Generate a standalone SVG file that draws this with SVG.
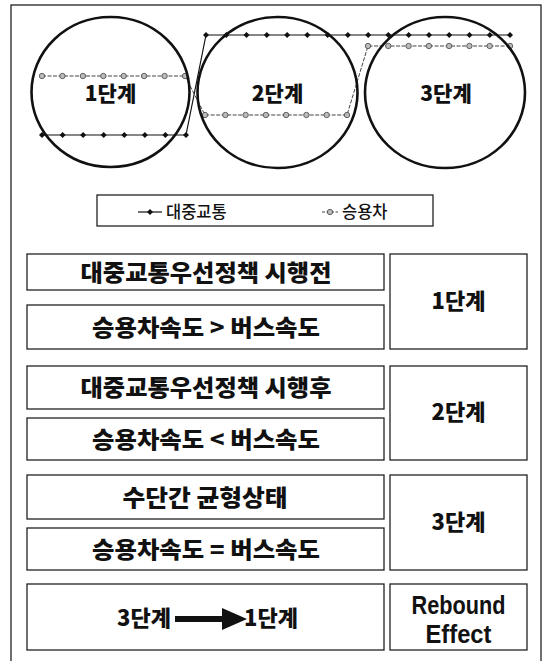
<svg xmlns="http://www.w3.org/2000/svg" width="547" height="661" viewBox="0 0 547 661">
<style>
.ko{font-family:"Noto Sans CJK KR","Liberation Sans",sans-serif;font-weight:900;fill:#111;text-anchor:middle}
.box{fill:#fff;stroke:#222;stroke-width:1.3}
.circ{fill:none;stroke:#111;stroke-width:2.6}
.en{font-family:"Liberation Sans",sans-serif;font-weight:bold;fill:#111;text-anchor:middle}
.lg{font-family:"Noto Sans CJK KR",sans-serif;font-size:16.5px;font-weight:500;fill:#111}
</style>
<defs>
<marker id="dot" markerUnits="userSpaceOnUse" markerWidth="8" markerHeight="8" refX="4" refY="4" viewBox="0 0 8 8">
<path d="M4 1 L7 4 L4 7 L1 4 Z" fill="#111"/>
</marker>
<marker id="ring" markerUnits="userSpaceOnUse" markerWidth="8" markerHeight="8" refX="4" refY="4" viewBox="0 0 8 8">
<circle cx="4" cy="4" r="2.7" fill="#bbb" stroke="#555" stroke-width="0.9"/>
</marker>
</defs>
<rect x="11" y="5" width="530" height="670" fill="#fff" stroke="#222" stroke-width="1.3"/>

<g id="connectors">
<polyline id="transit" fill="none" stroke="#111" stroke-width="1.2" marker-start="url(#dot)" marker-mid="url(#dot)" marker-end="url(#dot)"
 points="42,135 62.6,135 83.1,135 103.7,135 124.3,135 144.9,135 165.4,135 186,135 206,35 226.3,35 246.5,35 266.8,35 287.1,35 307.3,35 327.6,35 347.9,35 368.2,35 388.4,35 408.7,35 429,35 449.2,35 469.5,35 489.8,35 510,35"/>
<polyline id="car" fill="none" stroke="#444" stroke-width="1" stroke-dasharray="4 1.5" marker-start="url(#ring)" marker-mid="url(#ring)" marker-end="url(#ring)"
 points="42,76 62.4,76 82.9,76 103.3,76 123.7,76 144.1,76 164.6,76 185,76 205,115 225.3,115 245.6,115 265.9,115 286.1,115 306.4,115 326.7,115 347,115 368,46 388.3,46 408.6,46 428.9,46 449.1,46 469.4,46 489.7,46 510,46"/>
</g>

<g id="stage1-circle">
<ellipse class="circ" cx="110.5" cy="92" rx="79" ry="75"/>
<text class="ko" x="110.5" y="101" font-size="21">1단계</text>
</g>
<g id="stage2-circle">
<ellipse class="circ" cx="277.5" cy="92.5" rx="80" ry="75.5"/>
<text class="ko" x="277.5" y="101" font-size="21">2단계</text>
</g>
<g id="stage3-circle">
<ellipse class="circ" cx="445" cy="92.5" rx="80" ry="75.5"/>
<text class="ko" x="446" y="101" font-size="21">3단계</text>
</g>

<g id="legend">
<rect class="box" x="97" y="195" width="336" height="31"/>
<line x1="138" y1="212" x2="162" y2="212" stroke="#111" stroke-width="1.2"/>
<path d="M150 209 L153 212 L150 215 L147 212 Z" fill="#111"/>
<text class="lg" x="166" y="218">대중교통</text>
<line x1="322" y1="212" x2="338" y2="212" stroke="#444" stroke-width="1" stroke-dasharray="3 1.5"/>
<circle cx="330" cy="212" r="2.7" fill="#bbb" stroke="#555" stroke-width="0.9"/>
<text class="lg" x="342" y="218">승용차</text>
</g>

<g id="before-policy">
<rect class="box" x="27" y="254" width="357" height="36"/>
<text class="ko" x="206" y="281" font-size="23" textLength="251" lengthAdjust="spacingAndGlyphs">대중교통우선정책 시행전</text>
</g>
<g id="speed-gt">
<rect class="box" x="27" y="305" width="357" height="44"/>
<text class="ko" x="206" y="336" font-size="23" textLength="228" lengthAdjust="spacingAndGlyphs">승용차속도 &gt; 버스속도</text>
</g>
<g id="stage1-box">
<rect class="box" x="390" y="254" width="137" height="95"/>
<text class="ko" x="458.5" y="309" font-size="22">1단계</text>
</g>

<g id="after-policy">
<rect class="box" x="27" y="366" width="357" height="43"/>
<text class="ko" x="206" y="396" font-size="23" textLength="251" lengthAdjust="spacingAndGlyphs">대중교통우선정책 시행후</text>
</g>
<g id="speed-lt">
<rect class="box" x="27" y="418" width="357" height="42"/>
<text class="ko" x="206" y="448" font-size="23" textLength="228" lengthAdjust="spacingAndGlyphs">승용차속도 &lt; 버스속도</text>
</g>
<g id="stage2-box">
<rect class="box" x="390" y="366" width="137" height="94"/>
<text class="ko" x="458.5" y="420" font-size="22">2단계</text>
</g>

<g id="equilibrium">
<rect class="box" x="27" y="475" width="357" height="44"/>
<text class="ko" x="205" y="506" font-size="23" textLength="165" lengthAdjust="spacingAndGlyphs">수단간 균형상태</text>
</g>
<g id="speed-eq">
<rect class="box" x="27" y="528" width="357" height="42"/>
<text class="ko" x="206" y="558" font-size="23" textLength="228" lengthAdjust="spacingAndGlyphs">승용차속도 = 버스속도</text>
</g>
<g id="stage3-box">
<rect class="box" x="390" y="475" width="137" height="95"/>
<text class="ko" x="458.5" y="530" font-size="22">3단계</text>
</g>

<g id="rebound-flow">
<rect class="box" x="27" y="584" width="357" height="66"/>
<text class="ko" x="144" y="626" font-size="22">3단계</text>
<rect x="175" y="616" width="50" height="6" fill="#111"/>
<path d="M222 608 L247 619 L222 630 Z" fill="#111"/>
<text class="ko" x="271" y="626" font-size="22">1단계</text>
</g>
<g id="rebound-box">
<rect class="box" x="390" y="584" width="137" height="66"/>
<text class="en" x="458.5" y="614" font-size="26" textLength="94" lengthAdjust="spacingAndGlyphs">Rebound</text>
<text class="en" x="458.5" y="643" font-size="26" textLength="66" lengthAdjust="spacingAndGlyphs">Effect</text>
</g>
</svg>
